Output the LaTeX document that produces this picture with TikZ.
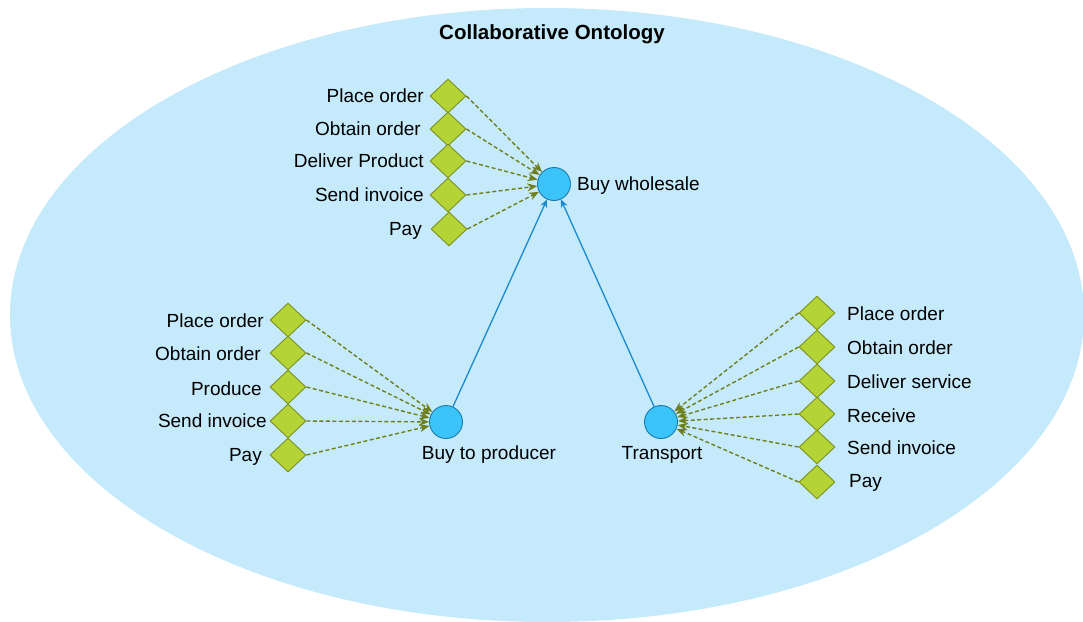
\documentclass[tikz,border=0pt]{standalone}
\usepackage{fontspec}
\setmainfont{Liberation Sans}
\usetikzlibrary{shapes.geometric,arrows.meta}
\definecolor{bgblue}{HTML}{C5EAFB}
\definecolor{dfill}{HTML}{B4D334}
\definecolor{ddraw}{HTML}{7C9020}
\definecolor{cfill}{HTML}{3BC4FA}
\definecolor{cdraw}{HTML}{1C7AA6}
\definecolor{dline}{HTML}{6E7F1C}
\definecolor{bline}{HTML}{1A8AD0}
\begin{document}
\begin{tikzpicture}[x=1pt,y=-1pt,
 act/.style={diamond,draw=ddraw,fill=dfill,minimum width=36pt,minimum height=34pt,inner sep=0pt,line width=0.9pt},
 proc/.style={circle,draw=cdraw,fill=cfill,minimum size=33pt,inner sep=0pt,line width=0.9pt},
 lbl/.style={font=\fontsize{19}{22}\selectfont,inner sep=0pt,yshift=-4pt},
 dep/.style={draw=dline,dash pattern=on 4pt off 2.5pt,line width=1.4pt,-{Stealth[length=10pt,width=8pt]}},
 flowline/.style={draw=bline,line width=1.3pt,-{Stealth[length=8pt,width=7pt]}}
]
\useasboundingbox (0,0) rectangle (1083,621);
\clip (0,0) rectangle (1083,621);
\fill[bgblue] (547,315) ellipse [x radius=537pt, y radius=307pt];

\node[font=\bfseries\fontsize{20.5}{24}\selectfont,inner sep=0pt] (title) at (552,34) {Collaborative Ontology};

% processes
\node[proc] (bw) at (554,184) {};
\node[lbl,anchor=mid west] (bwl) at (577,184) {Buy wholesale};
\node[proc] (btp) at (446,422) {};
\node[lbl,anchor=mid] (btpl) at (489,453) {Buy to producer};
\node[proc] (tr) at (661,422) {};
\node[lbl,anchor=mid] (trl) at (662,453) {Transport};

% top group
\node[act] (a1) at (448,96) {};
\node[act] (a2) at (448,129) {};
\node[act] (a3) at (448,161) {};
\node[act] (a4) at (448,195) {};
\node[act] (a5) at (449,229) {};
\node[lbl,anchor=mid east] (a1l) at (424,96) {Place order};
\node[lbl,anchor=mid east] (a2l) at (421,129) {Obtain order};
\node[lbl,anchor=mid east] (a3l) at (424,161) {Deliver Product};
\node[lbl,anchor=mid east] (a4l) at (424,195) {Send invoice};
\node[lbl,anchor=mid east] (a5l) at (422,229) {Pay};
\foreach \i in {1,...,5} \draw[dep] (a\i.east) -- (bw);

% bottom-left group
\node[act] (b1) at (288,320) {};
\node[act] (b2) at (288,353) {};
\node[act] (b3) at (288,387) {};
\node[act] (b4) at (288,421) {};
\node[act] (b5) at (288,455) {};
\node[lbl,anchor=mid east] (b1l) at (264,321) {Place order};
\node[lbl,anchor=mid east] (b2l) at (261,354) {Obtain order};
\node[lbl,anchor=mid east] (b3l) at (262,389) {Produce};
\node[lbl,anchor=mid east] (b4l) at (267,421) {Send invoice};
\node[lbl,anchor=mid east] (b5l) at (262,455) {Pay};
\foreach \i in {1,...,5} \draw[dep] (b\i.east) -- (btp);

% right group
\node[act] (c1) at (817,313) {};
\node[act] (c2) at (817,347) {};
\node[act] (c3) at (817,381) {};
\node[act] (c4) at (817,414) {};
\node[act] (c5) at (817,447) {};
\node[act] (c6) at (817,482) {};
\node[lbl,anchor=mid west] (c1l) at (847,314) {Place order};
\node[lbl,anchor=mid west] (c2l) at (847,348) {Obtain order};
\node[lbl,anchor=mid west] (c3l) at (847,382) {Deliver service};
\node[lbl,anchor=mid west] (c4l) at (847,416) {Receive};
\node[lbl,anchor=mid west] (c5l) at (847,448) {Send invoice};
\node[lbl,anchor=mid west] (c6l) at (849,481) {Pay};
\foreach \i in {1,...,6} \draw[dep] (c\i.west) -- (tr);

% supports
\draw[flowline] (btp) -- (bw);
\draw[flowline] (tr) -- (bw);
\end{tikzpicture}
\end{document}
